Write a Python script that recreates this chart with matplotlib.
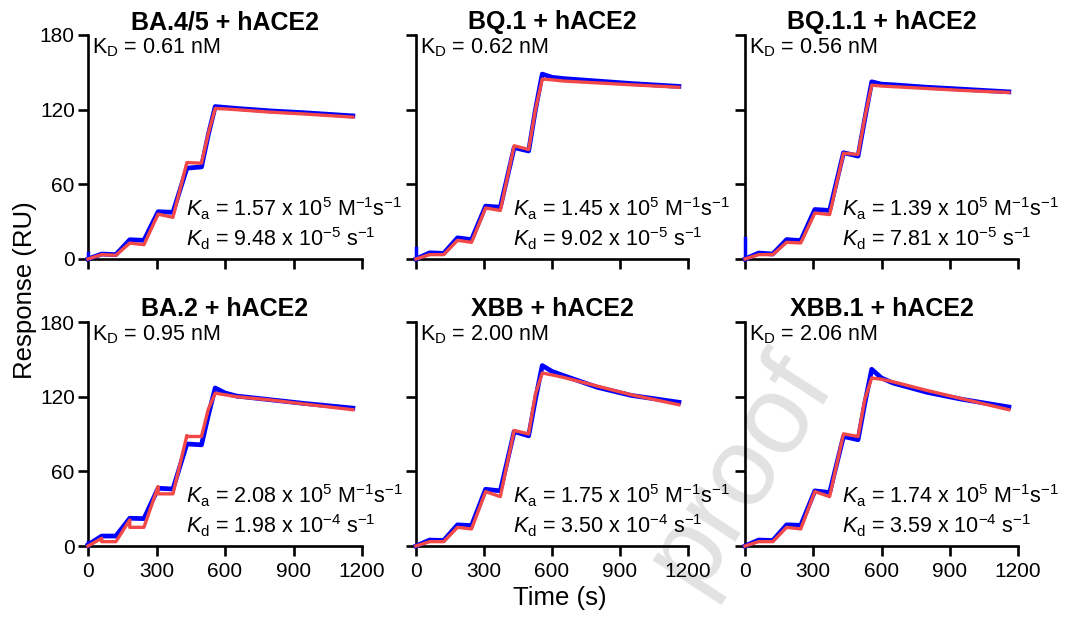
import matplotlib
matplotlib.use("Agg")
import matplotlib.pyplot as plt

plt.rcParams['font.family'] = ['Liberation Sans', 'DejaVu Sans']
plt.rcParams['mathtext.fontset'] = 'custom'
plt.rcParams['mathtext.rm'] = 'Liberation Sans'
plt.rcParams['mathtext.it'] = 'Liberation Sans:italic'
plt.rcParams['mathtext.bf'] = 'Liberation Sans:bold'

# time points (s) of the sensorgram vertices
time_pts = [0, 60, 122, 183, 245, 307, 372, 433, 497, 527, 557, 600, 650, 800, 950, 1160]
# BA.2 fit drops at the end of each injection
ba2_fit_time = [0, 60, 60, 122, 183, 183, 245, 307, 307, 372, 433, 433, 497, 527, 557,
                600, 650, 800, 950, 1160]

titles = ["BA.4/5 + hACE2", "BQ.1 + hACE2", "BQ.1.1 + hACE2",
          "BA.2 + hACE2", "XBB + hACE2", "XBB.1 + hACE2"]
kd_nm = ["0.61", "0.62", "0.56", "0.95", "2.00", "2.06"]
ka_txt = ["1.57", "1.45", "1.39", "2.08", "1.75", "1.74"]
kd_txt = ["9.48", "9.02", "7.81", "1.98", "3.50", "3.59"]
kd_exp = ["-5", "-5", "-5", "-4", "-4", "-4"]

# measured response (RU)
ba45_data = [0, 4, 3.5, 15.5, 15, 38, 37.5, 73, 74, 100, 122.5, 121.8, 121, 119, 117.5, 115]
bq1_data = [0, 5, 4.5, 17, 15.6, 42.5, 41.6, 89.5, 86.8, 120, 148.6, 146, 145, 143, 141, 138.7]
bq11_data = [0, 4.8, 4, 15.6, 14.8, 39.8, 39, 85.4, 82.7, 113, 142.4, 140.5, 140, 138, 136.5, 134.3]
ba2_data = [1, 8, 8, 22.3, 22, 46.4, 45.8, 82, 81.3, 105, 127, 123, 120.5, 117.5, 114.5, 110.8]
xbb_data = [0, 4.8, 4.4, 17, 16.4, 45.6, 44.3, 92, 88.5, 118, 145, 140.3, 137, 127.5, 121, 115.5]
xbb1_data = [0, 4.8, 4.4, 17, 16.6, 44.3, 43, 88, 85.4, 115, 142, 135, 131, 123.5, 118, 111.7]
# injection spike at t=0 in the raw data
data_spike = [5, 9, 17, 3, 0, 0]

# fitted response (RU)
ba45_fit = [0, 3.5, 3, 12.8, 11.5, 36, 33.5, 77.5, 77, 101, 121, 120.6, 120, 118, 116.5, 114]
bq1_fit = [0, 3.5, 3.5, 15, 13.4, 41, 39, 91, 88, 120, 144.6, 144, 143, 141.5, 140, 138]
bq11_fit = [0, 3.5, 3.5, 13.4, 12.9, 37, 35.7, 85, 84, 114, 139.7, 139, 138.5, 137, 135.5, 133.8]
ba2_fit = [0, 6.2, 3.5, 3.5, 20.9, 15, 15, 47.8, 41.9, 41.9, 88.8, 88, 88, 110, 122.8,
           121.5, 120, 117.3, 114, 109.5]
xbb_fit = [0, 3.5, 3.5, 15, 13.7, 43.7, 39.7, 92.8, 90.1, 122, 139, 137.5, 135.5, 128.5, 121.5, 113.5]
xbb1_fit = [0, 3.5, 3.5, 15, 13.7, 43.7, 39.7, 90.1, 88, 118, 135, 134, 132, 125, 118.5, 109.5]

data_all = [ba45_data, bq1_data, bq11_data, ba2_data, xbb_data, xbb1_data]
fit_all = [ba45_fit, bq1_fit, bq11_fit, ba2_fit, xbb_fit, xbb1_fit]
fit_times = [time_pts, time_pts, time_pts, ba2_fit_time, time_pts, time_pts]

W, H = 1069, 620
fig = plt.figure(figsize=(W / 100, H / 100), dpi=100)

# watermark
fig.text(740 / W, 1 - 470 / H, "proof", rotation=57, fontsize=80, color='#e2e2e2',
         ha='center', va='center', zorder=-1)

lefts = [88, 416, 745]
widths = [274, 272, 273]
bottoms = [259, 546]
ax_h = 224

for i in range(6):
    r, c = divmod(i, 3)
    ax = fig.add_axes([lefts[c] / W, 1 - bottoms[r] / H, widths[c] / W, ax_h / H])
    ax.set_facecolor('none')
    ax.plot(time_pts, data_all[i], color='#0000ff', lw=3.4, clip_on=False, zorder=3)
    if data_spike[i] > 0:
        ax.plot([0, 0], [0, data_spike[i]], color='#0000ff', lw=2.5, clip_on=False, zorder=3)
    ax.plot(fit_times[i], fit_all[i], color='#f24848', lw=2.4, clip_on=False, zorder=4)

    ax.set_xlim(0, 1200)
    ax.set_ylim(0, 180)
    ax.set_xticks([0, 300, 600, 900, 1200])
    ax.set_yticks([0, 60, 120, 180])
    for s in ['top', 'right']:
        ax.spines[s].set_visible(False)
    for s in ['left', 'bottom']:
        ax.spines[s].set_linewidth(1.9)
    ax.tick_params(direction='out', length=7.5, width=1.9, labelsize=15)
    ax.tick_params(axis='y', pad=2)
    ax.tick_params(axis='x', pad=4)
    if c > 0:
        ax.set_yticklabels([])
    if r == 0:
        ax.set_xticklabels([])

    ax.set_title(titles[i], fontsize=18, fontweight='bold', pad=4)
    ax.text(0.015, 0.92, r"K$_\mathrm{D}$ = " + kd_nm[i] + " nM", transform=ax.transAxes,
            fontsize=15.5, ha='left', va='baseline')
    ax.text(0.357, 0.189, r"$\mathit{K}_\mathrm{a}$ = " + ka_txt[i] +
            r" x 10$^{5}$ M$^{-1}$s$^{-1}$", transform=ax.transAxes,
            fontsize=15.5, ha='left', va='baseline')
    ax.text(0.357, 0.055, r"$\mathit{K}_\mathrm{d}$ = " + kd_txt[i] +
            r" x 10$^{" + kd_exp[i] + r"}$ s$^{-1}$", transform=ax.transAxes,
            fontsize=15.5, ha='left', va='baseline')

fig.text(25 / W, 1 - 290 / H, "Response (RU)", rotation=90, fontsize=18.5,
         ha='center', va='center')
fig.text(560 / W, 1 - 598 / H, "Time (s)", fontsize=18.5, ha='center', va='center')

fig.savefig("out.png", dpi=100)
